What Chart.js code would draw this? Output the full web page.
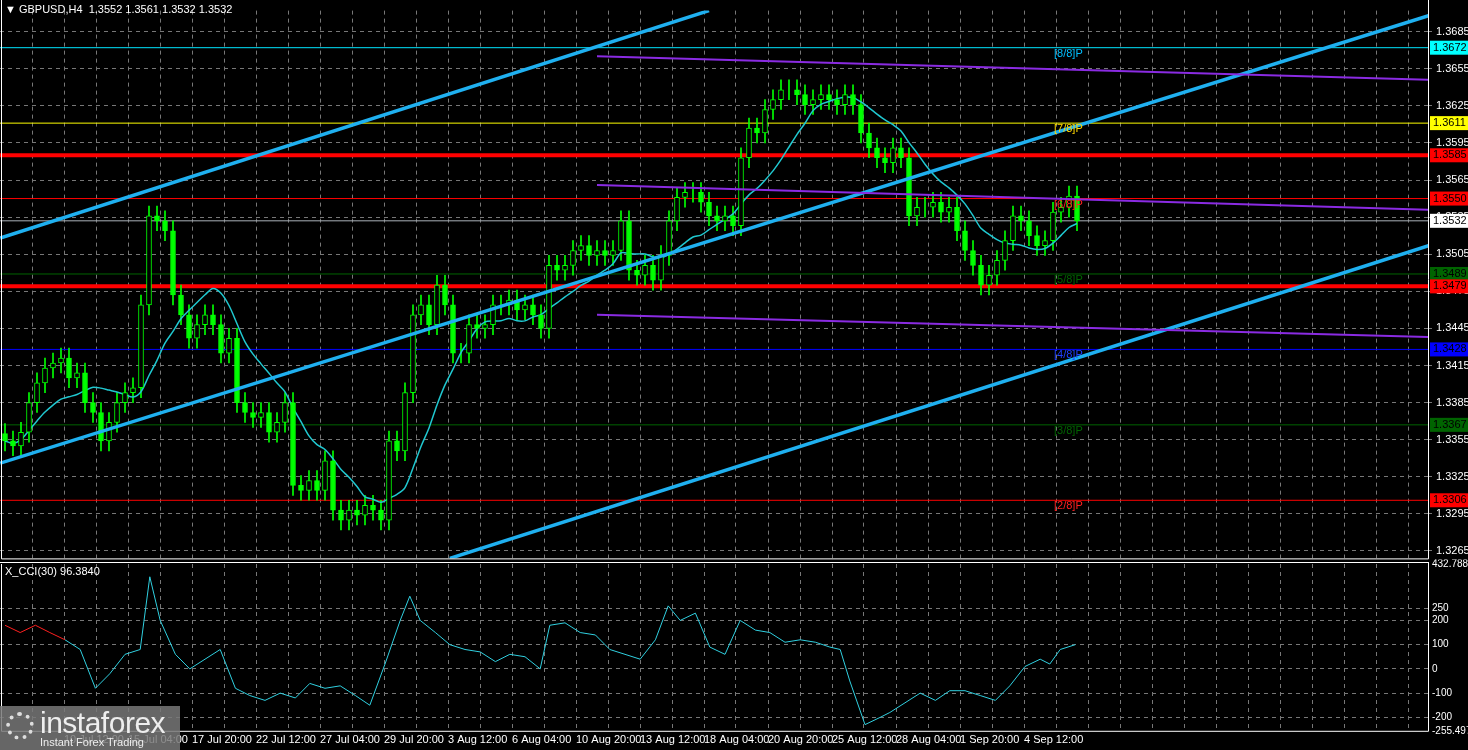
<!DOCTYPE html>
<html><head><meta charset="utf-8">
<script src="https://cdn.jsdelivr.net/npm/chart.js@4.4.1/dist/chart.umd.min.js"></script>
<style>
html,body{margin:0;padding:0;background:#000;overflow:hidden}
#wrap{position:relative;width:1468px;height:750px;background:#000}
canvas{position:absolute;left:0}
#logo{position:absolute;left:0;top:706px;width:180px;height:44px;background:rgba(120,120,120,0.85);color:#eee;font-family:"Liberation Sans",sans-serif;z-index:5}
#logo .b{position:absolute;left:40px;top:0;font-size:30px;letter-spacing:-0.5px}
#logo .s{position:absolute;left:40px;top:30px;font-size:11px}
#logo .g{position:absolute;left:6px;top:6px;width:28px;height:28px;border-radius:50%;border:4px dotted #ddd;box-sizing:border-box}
</style></head><body>
<div id="wrap">
<canvas id="cci" width="1468" height="196" style="top:554px;z-index:1"></canvas>
<canvas id="main" width="1468" height="569" style="top:0;z-index:2"></canvas>
<div id="logo"><div class="g"></div><div class="b">instaforex</div><div class="s">Instant Forex Trading</div></div>
</div>
<script>
// ---- data ----
const closes=[1.3354,1.3350,1.3361,1.3385,1.3401,1.3413,1.3417,1.3421,1.3405,1.3409,1.3385,1.3377,1.3354,1.3369,1.3385,1.3393,1.3397,1.3464,1.3536,1.3532,1.3524,1.3472,1.3456,1.3437,1.3448,1.3456,1.3448,1.3425,1.3437,1.3385,1.3377,1.3373,1.3377,1.3361,1.3369,1.3385,1.3318,1.3314,1.3322,1.3314,1.3338,1.3298,1.3290,1.3298,1.3294,1.3302,1.3298,1.3290,1.3354,1.3346,1.3393,1.3456,1.3464,1.3448,1.3480,1.3464,1.3425,1.3425,1.3448,1.3445,1.3448,1.3464,1.3464,1.3468,1.3460,1.3464,1.3456,1.3445,1.3496,1.3492,1.3496,1.3508,1.3512,1.3504,1.3508,1.3504,1.3508,1.3532,1.3492,1.3488,1.3496,1.3484,1.3504,1.3532,1.3551,1.3555,1.3555,1.3547,1.3536,1.3532,1.3536,1.3528,1.3583,1.3607,1.3603,1.3622,1.3630,1.3638,1.3638,1.3634,1.3626,1.3630,1.3634,1.3630,1.3626,1.3634,1.3626,1.3603,1.3591,1.3583,1.3579,1.3591,1.3583,1.3536,1.3543,1.3543,1.3547,1.3539,1.3543,1.3524,1.3508,1.3496,1.3480,1.3488,1.3500,1.3516,1.3536,1.3532,1.3520,1.3512,1.3516,1.3539,1.3543,1.3552,1.3532];
const firstOpen=1.3360;
const wickPips=0.0008;
const xLabels=['7 Jul 2026','10 Jul 12:00','15 Jul 04:00','17 Jul 20:00','22 Jul 12:00','27 Jul 04:00','29 Jul 20:00','3 Aug 12:00','6 Aug 04:00','10 Aug 20:00','13 Aug 12:00','18 Aug 04:00','20 Aug 20:00','25 Aug 12:00','28 Aug 04:00','1 Sep 20:00','4 Sep 12:00'];
const yTicks=[1.3685,1.3655,1.3625,1.3595,1.3565,1.3535,1.3505,1.3475,1.3445,1.3415,1.3385,1.3355,1.3325,1.3295,1.3265];
const levels=[1.3672,1.3611,1.3585,1.3550,1.3532,1.3489,1.3479,1.3428,1.3367,1.3306];
const levelColors=['#00e5ff','#ffff00','#ff0000','#ff0000','#aab0b8','#006400','#ff0000','#0000ff','#006400','#ff0000'];
const levelWidths=[1,1,4,1,1,1,4,1,1,1];
const levelBox=['#00ffff','#ffff00','#ff0000','#ff0000','#ffffff','#006400','#ff0000','#0000ff','#006400','#ff0000'];
const murreyText=['[8/8]P','[7/8]P','[6/8]P','[5/8]P','[4/8]P','[3/8]P','[2/8]P'];
const murreyPrice=[1.3672,1.3611,1.3550,1.3489,1.3428,1.3367,1.3306];
const murreyColors=['#00bfff','#ffd700','#ff2020','#006400','#1e40ff','#006400','#ff2020'];
const channelUpper=[{x:-0.6,y:1.3518},{x:88,y:1.3702}];
const channelMid=[{x:-0.6,y:1.3336},{x:178,y:1.3698}];
const channelLow=[{x:55.6,y:1.3259},{x:178,y:1.3512}];
const purpleTop=[{x:74,y:1.3665},{x:178,y:1.3646}];
const purpleMid=[{x:74,y:1.3561},{x:178,y:1.3541}];
const purpleLow=[{x:74,y:1.3456},{x:178,y:1.3438}];
const cciX=[0,1.9,3.8,5.6,7.5,9.4,11.3,13.1,15,16.9,18.1,19.4,21.3,23.1,25,26.9,28.8,30.6,32.5,34.4,36.3,38.1,40,41.9,43.8,45.6,47.5,49.4,50.6,51.9,53.8,55.6,57.5,59.4,61.3,63.1,65,66.9,68.1,70,71.9,73.8,75.6,77.5,79.4,81.3,82.9,84.4,86.3,88.1,90,91.9,93.8,95.6,97.5,99.4,101.3,103.1,104.4,105.6,107.5,109.4,110.6,114.4,116.3,118.1,120,121.9,123.8,125.6,127.5,129.4,130.6,131.9,133.8];
const cciY=[180,150,180,150,120,80,-80,-20,60,80,380,200,60,0,40,80,-80,-110,-130,-100,-120,-60,-80,-70,-110,-150,20,200,300,200,150,100,80,70,30,60,50,0,180,190,150,140,80,60,40,120,260,200,230,90,60,200,160,150,110,120,110,90,80,-50,-230,-200,-180,-100,-130,-90,-90,-110,-130,-70,10,40,20,80,100,96];
const cciTicks=[432.788,250,200,100,0,-100,-200,-255.497];
// ---- derived ----
const opens=[firstOpen,...closes.slice(0,-1)];
const bodies=closes.map((c,i)=>({x:i,y:[opens[i],c]}));
const wicks=closes.map((c,i)=>({x:i,y:[Math.min(opens[i],c)-wickPips,Math.max(opens[i],c)+wickPips]}));
const ma=closes.map((c,i)=>{const s=closes.slice(Math.max(0,i-9),i+1);return {x:i,y:s.reduce((a,b)=>a+b,0)/s.length};});
const XMIN=-0.625,XMAX=177.875;
const gridX=[];for(let k=1;k<45;k++)gridX.push(4*k-0.625);
const FONT='"Liberation Sans", Arial, sans-serif';
const hLineSets=levels.map((v,i)=>({type:'line',data:[{x:XMIN,y:v},{x:XMAX,y:v}],borderColor:levelColors[i],borderWidth:levelWidths[i],pointRadius:0,order:5}));
const lineSet=(d,c,w)=>({type:'line',data:d,borderColor:c,borderWidth:w,pointRadius:0,order:1});
const bgMain={id:'bg',beforeDraw(ch){const c=ch.ctx;c.save();c.fillStyle='#000';c.fillRect(0,0,ch.width,ch.chartArea.bottom+1);c.restore();}};
const bg={id:'bg',beforeDraw(ch){const c=ch.ctx;c.save();c.fillStyle='#000';c.fillRect(0,0,ch.width,ch.height);c.restore();}};
const decoMain={id:'deco',afterDraw(ch){
 const c=ch.ctx,y=ch.scales.y,a=ch.chartArea;c.save();
 c.strokeStyle='#fff';c.lineWidth=1;c.beginPath();c.moveTo(1.5,0);c.lineTo(1.5,a.bottom+0.5);c.lineTo(a.right+0.5,a.bottom+0.5);c.lineTo(a.right+0.5,0);c.stroke();
 c.font='11px '+FONT;c.textBaseline='middle';
 levels.forEach((v,i)=>{const py=y.getPixelForValue(v);c.fillStyle=levelBox[i];c.fillRect(a.right+2,py-7,38,14);c.fillStyle='#000';c.fillText(v.toFixed(4),a.right+5,py);});
 murreyText.forEach((t,i)=>{c.fillStyle=murreyColors[i];c.fillText(t,1054,y.getPixelForValue(murreyPrice[i])+6);});
 c.fillStyle='#fff';c.font='11px '+FONT;c.fillText('▼ GBPUSD,H4  1.3552 1.3561 1.3532 1.3532',5,10);
 c.restore();}};
new Chart(document.getElementById('main'),{
 type:'bar',
 data:{datasets:[
  ...hLineSets,
  lineSet(purpleTop,'#8a2be2',2),lineSet(purpleMid,'#8a2be2',2),lineSet(purpleLow,'#8a2be2',2),
  lineSet(channelUpper,'#1fb0f0',3.5),lineSet(channelMid,'#1fb0f0',3.5),lineSet(channelLow,'#1fb0f0',3.5),
  {type:'line',data:ma,borderColor:'#20c8d0',borderWidth:1.5,pointRadius:0,tension:0.3,order:3},
  {type:'bar',data:wicks,backgroundColor:'#00ff00',barThickness:1,order:4,grouped:false},
  {type:'bar',data:bodies,backgroundColor:closes.map((c,i)=>c>=opens[i]?'#000':'#00ff00'),borderColor:'#00ff00',borderWidth:1,borderSkipped:false,barThickness:5,order:2,grouped:false}
 ]},
 options:{responsive:false,animation:false,devicePixelRatio:1,layout:{padding:{top:0,bottom:0,left:0,right:0}},
  plugins:{legend:{display:false},tooltip:{enabled:false}},
  scales:{
   x:{type:'linear',offset:false,min:XMIN,max:XMAX,afterBuildTicks:s=>{s.ticks=gridX.map(v=>({value:v}));},afterFit:s=>{s.height=0;},ticks:{display:false},grid:{color:'#777',drawTicks:false,offset:false},border:{display:false,dash:[4,4]}},
   y:{position:'right',min:1.3259,max:1.3702,afterBuildTicks:s=>{s.ticks=yTicks.map(v=>({value:v}));},afterFit:s=>{s.width=40;},
      ticks:{color:'#fff',font:{family:FONT,size:11},padding:4,callback:v=>v.toFixed(4)},grid:{color:'#777',drawTicks:true,tickLength:4},border:{display:false,dash:[4,4]}}
  }},
 plugins:[bgMain,decoMain]
});
const decoCci={id:'deco2',afterDraw(ch){
 const c=ch.ctx,a=ch.chartArea;c.save();
 c.strokeStyle='#fff';c.lineWidth=1;c.beginPath();c.moveTo(1.5,a.top);c.lineTo(1.5,a.bottom+0.5);c.lineTo(a.right+0.5,a.bottom+0.5);c.lineTo(a.right+0.5,a.top-2);c.stroke();
 c.beginPath();c.moveTo(0,a.top-1.5);c.lineTo(a.right,a.top-1.5);c.stroke();
 c.fillStyle='#fff';c.font='11px '+FONT;c.textBaseline='middle';c.fillText('X_CCI(30) 96.3840',5,a.top+8);
 c.restore();}};
new Chart(document.getElementById('cci'),{
 type:'line',
 data:{datasets:[{data:cciX.map((x,i)=>({x,y:cciY[i]})),borderColor:'#30d0e0',borderWidth:1,pointRadius:0,
   segment:{borderColor:ctx=>ctx.p0DataIndex<4?'#ff2020':'#30d0e0'}}]},
 options:{responsive:false,animation:false,devicePixelRatio:1,layout:{padding:{top:0,bottom:0,left:0,right:0}},
  plugins:{legend:{display:false},tooltip:{enabled:false}},
  scales:{
   x:{type:'linear',min:XMIN,max:XMAX,afterBuildTicks:s=>{s.ticks=gridX.map(v=>({value:v}));},
      ticks:{color:'#fff',font:{family:FONT,size:11},maxRotation:0,autoSkip:false,align:'start',padding:3,
        callback:(v,i)=>{const k=(i+1)/2;return Number.isInteger(k)&&k<xLabels.length?xLabels[k]:'';}},
      grid:{color:'#777',drawTicks:false},border:{display:false,dash:[4,4]}},
   y:{position:'right',min:-255.497,max:432.788,afterBuildTicks:s=>{s.ticks=cciTicks.map(v=>({value:v}));},afterFit:s=>{s.width=40;},
      ticks:{color:'#fff',font:{family:FONT,size:10},padding:4,callback:v=>(v>300)?'432.788':(v<-250?'-255.497':String(v))},grid:{color:ctx=>(ctx.tick&&(ctx.tick.value>400||ctx.tick.value<-250))?'rgba(0,0,0,0)':'#777',drawTicks:false},border:{display:false,dash:[4,4]}}
  }},
 plugins:[bg,decoCci]
});
</script>
</body></html>
